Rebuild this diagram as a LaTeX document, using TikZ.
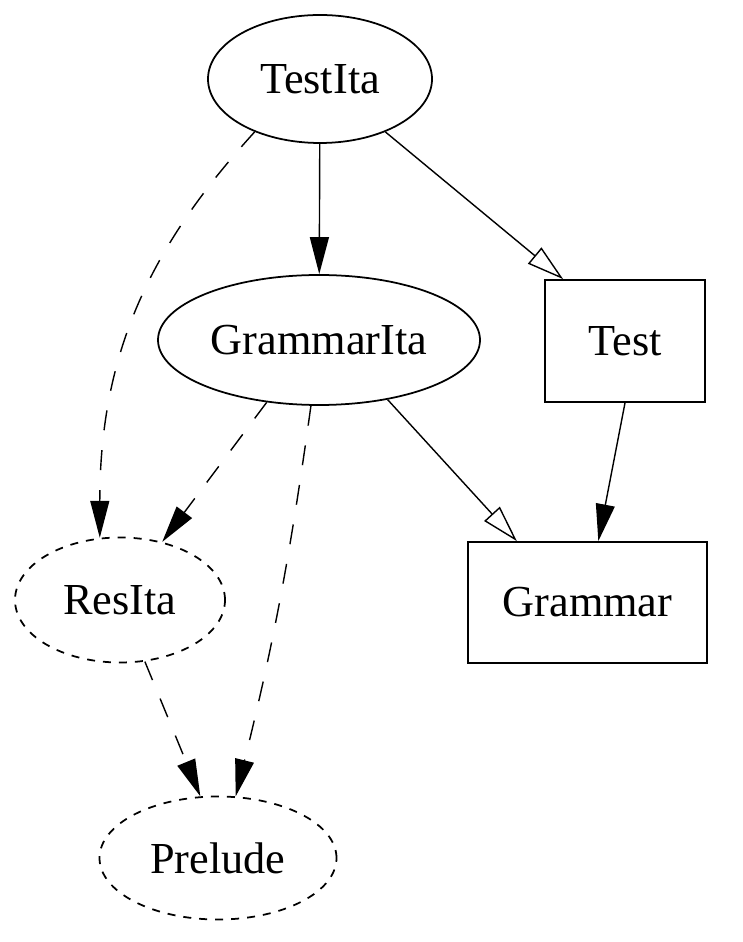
\documentclass[tikz,border=0pt]{standalone}
\usepackage{fontspec}
\setmainfont{Liberation Serif}
\usepackage{tikz}
\usetikzlibrary{shapes.geometric,arrows.meta}

\begin{document}
\begin{tikzpicture}
        [->,>={Triangle[length=3.7mm,width=1.9mm]},
        every node/.style={font=\fontsize{12.6}{15}\selectfont,line width=0.5pt},
        a/.style={ellipse,draw,inner sep=0pt},
        b/.style={rectangle,draw,inner sep=0pt},
        ext/.style={a,dash pattern=on 0.8mm off 0.8mm},
        dep/.style={line width=0.4pt},
        res/.style={dep,dash pattern=on 2mm off 2mm},
        inh/.style={dep,-{Triangle[open,length=3.7mm,width=2.1mm]}}]
        \useasboundingbox (0,0) rectangle (7.42,-9.42);
        \node[a,minimum width=2.24cm,minimum height=1.28cm] (testita) at (3.20,-0.79) {TestIta};
        \node[a,minimum width=3.22cm,minimum height=1.30cm] (grammarita) at (3.19,-3.40) {GrammarIta};
        \node[b,minimum width=1.60cm,minimum height=1.22cm] (test) at (6.25,-3.41) {Test};
        \node[b,minimum width=2.39cm,minimum height=1.21cm] (grammar) at (5.875,-6.025) {Grammar};
        \node[ext,minimum width=2.10cm,minimum height=1.25cm] (resita) at (1.20,-6.00) {ResIta};
        \node[ext,minimum width=2.37cm,minimum height=1.23cm] (prelude) at (2.18,-8.58) {Prelude};

        \draw[dep] (testita) -- (grammarita);
        \draw[inh] (testita.-39) -- (test.135);
        \draw[res] (testita.-141) .. controls +(-1.0,-1.1) and +(0,1.9) .. (resita.108);
        \draw[res] (grammarita.-130) -- (resita.54);
        \draw[res] (grammarita.-97) to[bend left=3] (prelude.74);
        \draw[inh] (grammarita.-41) -- (grammar.139);
        \draw[dep] (test.-90) -- (grammar.80);
        \draw[res] (resita.-68) -- (prelude.106);
    \end{tikzpicture}
\end{document}
